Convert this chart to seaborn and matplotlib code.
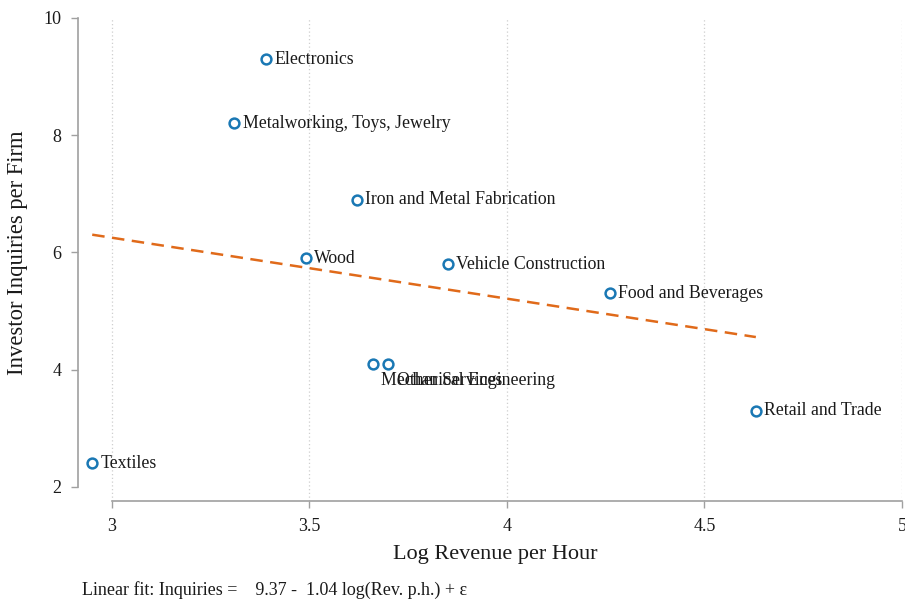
import matplotlib
matplotlib.use("Agg")
import matplotlib.pyplot as plt
import seaborn as sns
import numpy as np
import pandas as pd

industries = ["Electronics", "Metalworking, Toys, Jewelry", "Iron and Metal Fabrication",
              "Wood", "Vehicle Construction", "Food and Beverages",
              "Mechanical Engineering", "Other Services", "Retail and Trade", "Textiles"]
log_revenue = [3.39, 3.31, 3.62, 3.49, 3.85, 4.26, 3.66, 3.70, 4.63, 2.95]
inquiries = [9.3, 8.2, 6.9, 5.9, 5.8, 5.3, 4.1, 4.1, 3.3, 2.4]
below_label = ["Mechanical Engineering", "Other Services"]
fit_intercept = 9.37
fit_slope = -1.04
x_ticks = [3, 3.5, 4, 4.5, 5]
x_tick_labels = ["3", "3.5", "4", "4.5", "5"]
y_ticks = [2, 4, 6, 8, 10]

df = pd.DataFrame({"industry": industries, "x": log_revenue, "y": inquiries})

sns.set_style("white")
plt.rcParams["font.family"] = ["Liberation Serif", "DejaVu Serif"]

fig = plt.figure(figsize=(9.05, 6.06), dpi=100)
ax = fig.add_axes([78/905, 105/606, 824/905, 483/606])

gray = "#a0a0a0"
for xt in x_ticks:
    ax.axvline(xt, color="#cfcfcf", lw=0.9, ls=(0, (1, 2)), zorder=0)

xs = np.array([min(log_revenue), max(log_revenue)])
ax.plot(xs, fit_intercept + fit_slope * xs, color="#e06a1a", lw=1.8, ls=(0, (5, 3)), zorder=2)

sns.scatterplot(data=df, x="x", y="y", ax=ax, s=50, facecolor="white",
                edgecolor="#1a78b4", linewidth=1.8, zorder=3)

for _, r in df.iterrows():
    if r["industry"] in below_label:
        off = (6, -12)
    else:
        off = (6, 0)
    ax.annotate(r["industry"], (r["x"], r["y"]), xytext=off, textcoords="offset points",
                ha="left", va="center", fontsize=12.8, color="#1a1a1a")

ax.set_xlim(2.914, 5.0)
ax.set_ylim(1.757, 10.0)
ax.set_xticks(x_ticks)
ax.set_xticklabels(x_tick_labels)
ax.set_yticks(y_ticks)

for s in ["top", "right"]:
    ax.spines[s].set_visible(False)
ax.spines["left"].set_bounds(2, 10)
ax.spines["bottom"].set_bounds(3, 5)
for s in ["left", "bottom"]:
    ax.spines[s].set_color(gray)
    ax.spines[s].set_linewidth(1.2)
ax.tick_params(axis="both", which="both", direction="out", length=5, width=1.0,
               color=gray, labelsize=13, labelcolor="#1a1a1a", pad=7, left=True, bottom=True)

ax.set_xlabel("Log Revenue per Hour", fontsize=16, color="#1a1a1a")
ax.set_ylabel("Investor Inquiries per Firm", fontsize=16.3, color="#1a1a1a")
ax.xaxis.set_label_coords(0.506, -0.091)
ax.yaxis.set_label_coords(-0.061, 0.5145)

fig.text(82/905, 1 - 590/606, "Linear fit: Inquiries =    9.37 -  1.04 log(Rev. p.h.) + ε",
         fontsize=13, color="#1a1a1a", ha="left", va="center")

fig.savefig("out.png", dpi=100, facecolor="white")
